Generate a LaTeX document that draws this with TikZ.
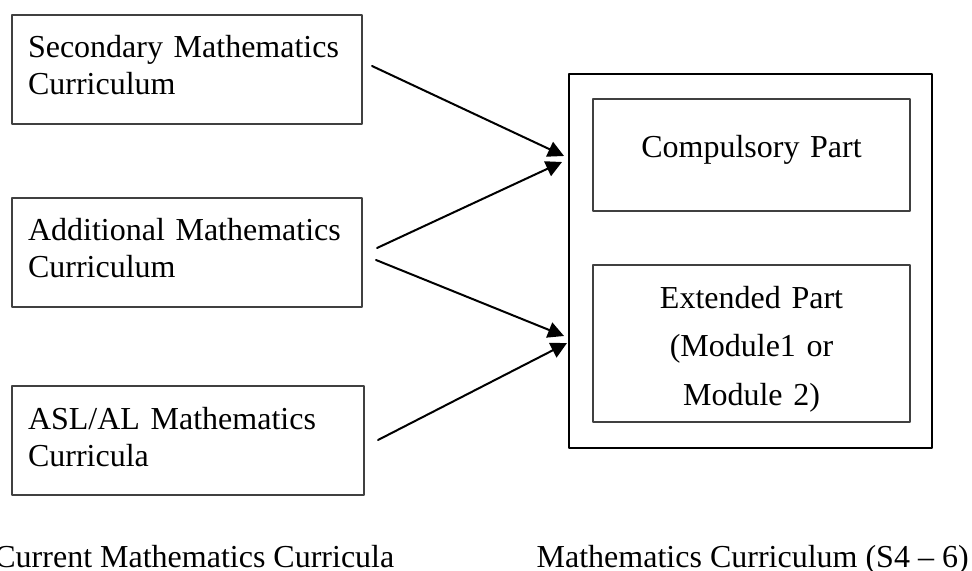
\documentclass[tikz,border=0pt]{standalone}
\usepackage{fontspec}
\setmainfont{Liberation Serif}
\usetikzlibrary{arrows.meta}

\begin{document}
\begin{tikzpicture}[x=0.5pt, y=-0.5pt, >={Triangle[length=8pt,width=8pt]}, line cap=round, line join=round]

% ---------- styles (safe names) ----------
\tikzset{
  currBox/.style  ={draw=black!75, line width=0.9pt, minimum width=175pt, minimum height=54.5pt,
                    inner xsep=8pt, text width=159pt, align=left,
                    font=\fontsize{16}{18.5}\selectfont, text height=11pt, text depth=22.5pt},
  newBox/.style   ={draw=black, line width=1pt, minimum width=181.5pt, minimum height=187pt},
  partBox/.style  ={draw=black!75, line width=0.9pt, minimum width=158.5pt,
                    inner xsep=4pt, text width=150.5pt, align=center,
                    font=\fontsize{16}{24.25}\selectfont, text height=11pt},
  capText/.style  ={inner sep=0pt, font=\fontsize{16}{18.5}\selectfont},
  feedLine/.style ={->, line width=1pt}
}

\useasboundingbox (0,0) rectangle (972,571);

% ---------- current curricula (left column) ----------
\node[currBox] (secMath) at (187,69.5)  {Secondary Mathematics\\Curriculum};
\node[currBox] (addMath) at (187,252.5) {Additional Mathematics\\Curriculum};
\node[currBox, minimum width=176pt, text width=160pt]
      (alMath) at (188,440.5) {ASL/AL Mathematics\\Curricula};

% ---------- new curriculum (right column) ----------
\node[newBox] (newCurr) at (750.5,261) {};
\node[partBox, minimum height=56pt, text depth=8pt]
      (compPart) at (751.5,155) {Compulsory Part};
\node[partBox, minimum height=78.5pt, text depth=46.5pt]
      (extPart) at (751.5,343.5) {Extended Part\\(Module1 or\\Module 2)};

% ---------- arrow ends ----------
\coordinate (secOut)  at (372,66);
\coordinate (addOutA) at (377,248);
\coordinate (addOutB) at (376,260);
\coordinate (alOut)   at (378,440);
\coordinate (compInA) at (564,156);
\coordinate (compInB) at (562,162);
\coordinate (extInA)  at (564,336);
\coordinate (extInB)  at (567,343);

% Feed arrows
\draw[feedLine] (secOut)  -- (compInA);
\draw[feedLine] (addOutA) -- (compInB);
\draw[feedLine] (addOutB) -- (extInA);
\draw[feedLine] (alOut)   -- (extInB);

% ---------- captions ----------
\node[capText, anchor=base west] (oldCap) at (-6,567)  {Current Mathematics Curricula};
\node[capText, anchor=base east] (newCap) at (969,567) {Mathematics Curriculum (S4 -- 6)};

\end{tikzpicture}
\end{document}
